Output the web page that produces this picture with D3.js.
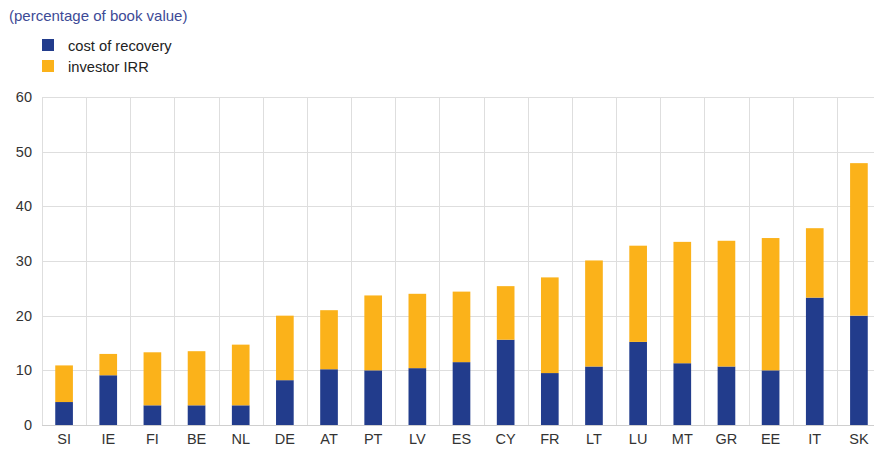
<!DOCTYPE html>
<html>
<head>
<meta charset="utf-8">
<script src="https://cdn.jsdelivr.net/npm/d3@7"></script>
<style>
body { margin: 0; background: #fff; }
#plot { width: 874px; height: 450px; overflow: hidden; }
text { font-family: "Liberation Sans", Arial, sans-serif; }
</style>
</head>
<body>
<div id="plot"></div>
<script>
var countries = ["SI","IE","FI","BE","NL","DE","AT","PT","LV","ES","CY","FR","LT","LU","MT","GR","EE","IT","SK"];
var costOfRecovery = [4.2, 9.1, 3.6, 3.6, 3.6, 8.2, 10.2, 10.0, 10.4, 11.5, 15.6, 9.5, 10.7, 15.2, 11.3, 10.7, 10.0, 23.3, 20.0];
var investorIRR = [6.7, 3.9, 9.7, 9.9, 11.1, 11.8, 10.8, 13.7, 13.6, 12.9, 9.8, 17.5, 19.4, 17.6, 22.2, 23.0, 24.2, 12.7, 27.9];
var yTicks = [0, 10, 20, 30, 40, 50, 60];
var seriesNames = ["cost of recovery", "investor IRR"];
var seriesColors = ["#223c8c", "#fbb21a"];

var margin = {top: 97, left: 42, right: -7, bottom: 25};
var width = 874 - margin.left - margin.right,
    height = 450 - margin.top - margin.bottom;

var svg = d3.select("#plot")
    .append("svg")
    .attr("width", 874)
    .attr("height", 450);

// title
svg.append("text")
    .attr("x", 9)
    .attr("y", 21)
    .style("font-size", "15px")
    .style("fill", "#3d4a96")
    .text("(percentage of book value)");

// legend
var legend = svg.selectAll(".legend")
    .data(seriesNames)
    .enter().append("g")
    .attr("transform", function(d, i) { return "translate(42," + (39 + i * 21) + ")"; });
legend.append("rect")
    .attr("width", 12)
    .attr("height", 12)
    .style("fill", function(d, i) { return seriesColors[i]; });
legend.append("text")
    .attr("x", 26)
    .attr("y", 11.5)
    .style("font-size", "14.7px")
    .style("fill", "#222")
    .text(function(d) { return d; });

var g = svg.append("g")
    .attr("transform", "translate(" + margin.left + "," + margin.top + ")");

var x = d3.scaleBand()
    .domain(countries)
    .range([0, width])
    .paddingInner(0)
    .paddingOuter(0);

var y = d3.scaleLinear()
    .domain([0, 60])
    .range([height, 0]);

// horizontal grid
g.selectAll(".hgrid")
    .data(yTicks)
    .enter().append("line")
    .attr("x1", 0)
    .attr("x2", width)
    .attr("y1", function(d) { return Math.round(y(d)) + 0.5; })
    .attr("y2", function(d) { return Math.round(y(d)) + 0.5; })
    .style("stroke", function(d) { return d == 0 ? "#cfcfcf" : "#dedede"; })
    .style("stroke-width", 1);

// vertical grid
g.selectAll(".vgrid")
    .data(countries)
    .enter().append("line")
    .attr("x1", function(d) { return Math.round(x(d)) + 0.5; })
    .attr("x2", function(d) { return Math.round(x(d)) + 0.5; })
    .attr("y1", y(60))
    .attr("y2", y(0))
    .style("stroke", "#dedede")
    .style("stroke-width", 1);

// stacked bars
var rows = countries.map(function(c, i) {
    return {country: c, cost: costOfRecovery[i], irr: investorIRR[i]};
});
var stack = d3.stack().keys(["cost", "irr"]);
var layers = stack(rows);

var barW = x.bandwidth() * 0.4;

g.selectAll(".layer")
    .data(layers)
    .enter().append("g")
    .style("fill", function(d, i) { return seriesColors[i]; })
    .selectAll("rect")
    .data(function(d) { return d; })
    .enter().append("rect")
    .attr("x", function(d) { return x(d.data.country) + (x.bandwidth() - barW) / 2; })
    .attr("width", barW)
    .attr("y", function(d) { return y(d[1]); })
    .attr("height", function(d) { return y(d[0]) - y(d[1]); });

// y axis
var yAxis = g.append("g")
    .call(d3.axisLeft(y).tickValues(yTicks).tickSize(0).tickPadding(10));
yAxis.select(".domain").remove();
yAxis.selectAll("text")
    .style("font-size", "14.5px")
    .style("font-family", "'Liberation Sans', Arial, sans-serif")
    .style("fill", "#333");

// x axis
var xAxis = g.append("g")
    .attr("transform", "translate(0," + height + ")")
    .call(d3.axisBottom(x).tickSize(0).tickPadding(9));
xAxis.select(".domain").remove();
xAxis.selectAll("text")
    .style("font-size", "14.5px")
    .style("font-family", "'Liberation Sans', Arial, sans-serif")
    .style("fill", "#333");
</script>
</body>
</html>
